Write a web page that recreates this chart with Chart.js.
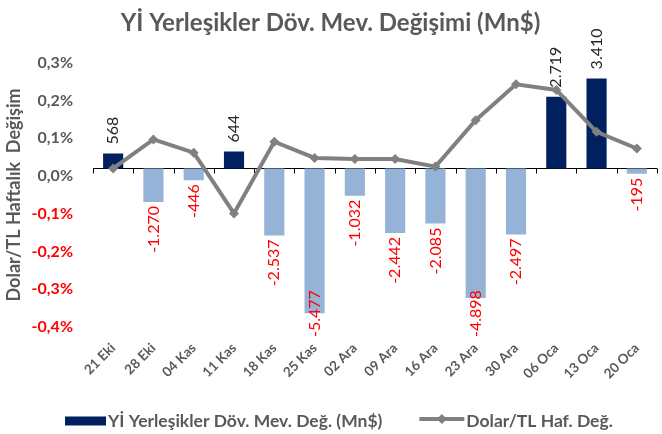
<!DOCTYPE html>
<html>
<head>
<meta charset="utf-8">
<script src="https://cdn.jsdelivr.net/npm/chart.js@4/dist/chart.umd.min.js"></script>
<style>
  html, body { margin: 0; padding: 0; background: #fff; }
</style>
</head>
<body>
<canvas id="chart" width="662" height="434"></canvas>
<script>
// weekly labels
var weeks = ['21 Eki', '28 Eki', '04 Kas', '11 Kas', '18 Kas', '25 Kas', '02 Ara', '09 Ara', '16 Ara', '23 Ara', '30 Ara', '06 Oca', '13 Oca', '20 Oca'];
// residents FX deposit change (Mn$)
var depositChange = [568, -1270, -446, 644, -2537, -5477, -1032, -2442, -2085, -4898, -2497, 2719, 3410, -195];
// USD/TRY weekly change (%)
var usdTryChange = [0.02, 0.097, 0.062, -0.099, 0.091, 0.048, 0.045, 0.045, 0.025, 0.148, 0.243, 0.228, 0.117, 0.073];

var GREY = '#595959';
var NAVY = '#002060';
var LIGHT = '#95B3D7';
var LINE = '#808080';
var FONT = 'Lato';

function fmt(v) {
  var s = Math.abs(v).toString().replace(/\B(?=(\d{3})+(?!\d))/g, '.');
  return (v < 0 ? '-' : '') + s;
}

// category axis drawn at the zero of the bar scale
var zeroAxis = {
  id: 'zeroAxis',
  beforeDatasetsDraw: function(chart) {
    var ctx = chart.ctx, x = chart.scales.x, y2 = chart.scales.y2;
    var y0 = Math.round(y2.getPixelForValue(0)) + 0.5;
    var half = (x.getPixelForValue(1) - x.getPixelForValue(0)) / 2;
    ctx.save();
    ctx.strokeStyle = '#000';
    ctx.lineWidth = 1;
    ctx.beginPath();
    ctx.moveTo(x.getPixelForValue(0) - half, y0);
    ctx.lineTo(x.getPixelForValue(weeks.length - 1) + half, y0);
    for (var i = 0; i <= weeks.length; i++) {
      var px = Math.round(x.getPixelForValue(i) - half) + 0.5;
      ctx.moveTo(px, y0);
      ctx.lineTo(px, y0 + 5);
    }
    ctx.stroke();
    ctx.restore();
  }
};

// rotated value labels on the bars
var barLabels = {
  id: 'barLabels',
  afterDatasetsDraw: function(chart) {
    var ctx = chart.ctx;
    var meta = chart.getDatasetMeta(0);
    ctx.save();
    ctx.font = '16px ' + FONT;
    ctx.textBaseline = 'middle';
    meta.data.forEach(function(bar, i) {
      var v = depositChange[i];
      var txt = fmt(v);
      var w = ctx.measureText(txt).width;
      ctx.save();
      if (v >= 0) {
        ctx.translate(bar.x, bar.y - 9);
        ctx.rotate(-Math.PI / 2);
        ctx.textAlign = 'left';
        ctx.fillStyle = '#262626';
      } else {
        // keep label inside the plot like Excel does
        var start = Math.min(bar.y + 4, chart.chartArea.bottom + 10 - w);
        ctx.translate(bar.x, start);
        ctx.rotate(-Math.PI / 2);
        ctx.textAlign = 'right';
        ctx.fillStyle = '#FF0000';
      }
      ctx.fillText(txt, 0, 0);
      ctx.restore();
    });
    ctx.restore();
  }
};

// legend at the bottom: navy box for the bars, line with diamond for the line
var bottomLegend = {
  id: 'bottomLegend',
  afterDraw: function(chart) {
    var ctx = chart.ctx;
    var ds = chart.data.datasets;
    var cy = 421;
    ctx.save();
    ctx.font = 'bold 17.5px ' + FONT;
    ctx.textBaseline = 'middle';
    ctx.textAlign = 'left';
    var t1 = ctx.measureText(ds[0].label).width;
    var t2 = ctx.measureText(ds[1].label).width;
    var total = 41 + 2 + t1 + 37 + 45 + 2 + t2;
    var x = Math.round(339 - total / 2);
    ctx.fillStyle = NAVY;
    ctx.fillRect(x, cy - 4.5, 41, 9);
    x += 43;
    ctx.fillStyle = GREY;
    ctx.fillText(ds[0].label, x, cy);
    x += t1 + 37;
    ctx.strokeStyle = LINE;
    ctx.lineWidth = 4;
    ctx.beginPath(); ctx.moveTo(x, cy - 2); ctx.lineTo(x + 45, cy - 2); ctx.stroke();
    ctx.fillStyle = LINE;
    ctx.beginPath();
    ctx.moveTo(x + 22.5, cy - 7); ctx.lineTo(x + 27.5, cy - 2); ctx.lineTo(x + 22.5, cy + 3); ctx.lineTo(x + 17.5, cy - 2);
    ctx.closePath(); ctx.fill();
    x += 47;
    ctx.fillStyle = GREY;
    ctx.fillText(ds[1].label, x, cy);
    ctx.restore();
  }
};

var ctx = document.getElementById('chart').getContext('2d');
var myChart = new Chart(ctx, {
  type: 'bar',
  data: {
    labels: weeks,
    datasets: [{
      type: 'bar',
      label: 'Yİ Yerleşikler Döv. Mev. Değ. (Mn$)',
      data: depositChange,
      yAxisID: 'y2',
      backgroundColor: depositChange.map(function(v) { return v >= 0 ? NAVY : LIGHT; }),
      categoryPercentage: 0.5,
      barPercentage: 1,
      order: 2
    }, {
      type: 'line',
      label: 'Dolar/TL Haf. Değ.',
      data: usdTryChange,
      yAxisID: 'y',
      borderColor: LINE,
      backgroundColor: LINE,
      borderWidth: 4,
      pointStyle: 'rectRot',
      pointRadius: 5,
      pointBorderWidth: 0,
      tension: 0,
      order: 1
    }]
  },
  options: {
    responsive: false,
    animation: false,
    devicePixelRatio: 1,
    layout: { padding: { left: 0, right: 1, top: 0, bottom: 47 } },
    scales: {
      x: {
        grid: { display: false },
        border: { display: false },
        ticks: {
          color: GREY,
          font: { family: FONT, size: 13.5, weight: 'bold' },
          minRotation: 45,
          maxRotation: 45,
          padding: 5,
          autoSkipPadding: 2
        },
        afterFit: function(s) { s.height = 60; }
      },
      y: {
        min: -0.4,
        max: 0.3,
        grid: { display: false, drawTicks: false },
        border: { display: false },
        ticks: {
          stepSize: 0.1,
          padding: 20,
          font: { family: FONT, size: 16, weight: 'bold' },
          color: function(c) { return c.tick.value < -0.0001 ? '#FF0000' : GREY; },
          callback: function(v) { return v.toFixed(1).replace('.', ',').replace('-0,0', '0,0') + '%'; }
        },
        title: {
          display: true,
          text: 'Dolar/TL Haftalık  Değişim',
          color: GREY,
          font: { family: FONT, size: 18, weight: 'bold' },
          padding: { top: 3, bottom: 0 }
        },
        afterFit: function(s) { s.width = 93; }
      },
      y2: {
        display: false,
        min: -6000,
        max: 4000
      }
    },
    plugins: {
      title: {
        display: true,
        text: 'Yİ Yerleşikler Döv. Mev. Değişimi (Mn$)',
        color: GREY,
        font: { family: FONT, size: 24, weight: 'bold' },
        padding: { top: 9, bottom: 25 }
      },
      legend: { display: false },
      tooltip: { enabled: false }
    }
  },
  plugins: [zeroAxis, barLabels, bottomLegend]
});
</script>
</body>
</html>
